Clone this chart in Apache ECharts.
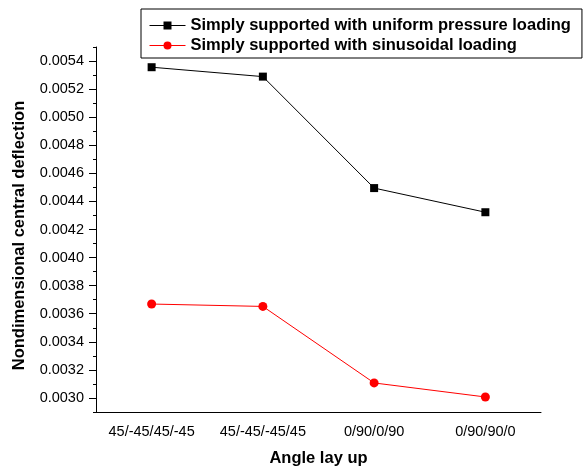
<!DOCTYPE html>
<html><head><meta charset="utf-8">
<script src="https://cdn.jsdelivr.net/npm/echarts@6/dist/echarts.min.js"></script>
<style>html,body{margin:0;padding:0;background:#fff}#c{width:587px;height:474px}</style>
</head><body><div id="c"></div>
<script>
const categories = ['45/-45/45/-45', '45/-45/-45/45', '0/90/0/90', '0/90/90/0'];
const uniformPressure = [0.005356, 0.005289, 0.004495, 0.004323];
const sinusoidal = [0.003669, 0.003652, 0.003107, 0.003007];
const yMajorTicks = [0.0030, 0.0032, 0.0034, 0.0036, 0.0038, 0.0040, 0.0042, 0.0044, 0.0046, 0.0048, 0.0050, 0.0052, 0.0054];
const seriesNames = ['Simply supported with uniform pressure loading', 'Simply supported with sinusoidal loading'];

const FONT = 'Liberation Sans, Arial, Helvetica, sans-serif';
const chart = echarts.init(document.getElementById('c'), null, {renderer: 'canvas'});
chart.setOption({
  animation: false,
  backgroundColor: '#fff',
  grid: {left: 96, right: 46, top: 47, bottom: 62, containLabel: false},
  legend: {
    orient: 'vertical',
    left: 141, top: 9,
    borderColor: '#000', borderWidth: 1,
    padding: [8, 11, 4, 8],
    itemWidth: 36, itemHeight: 10, itemGap: 3,
    lineStyle: {width: 1},
    textStyle: {color: '#000', fontWeight: 'bold', fontSize: 16.5, fontFamily: FONT},
    data: seriesNames
  },
  xAxis: [
    {
      type: 'category', data: categories, boundaryGap: true, position: 'bottom',
      axisLine: {lineStyle: {color: '#000', width: 1}},
      axisTick: {alignWithLabel: true, length: 5, lineStyle: {color: '#000'}},
      axisLabel: {interval: 0, color: '#000', fontSize: 14.5, fontFamily: FONT, margin: 12},
      name: 'Angle lay up', nameLocation: 'middle', nameGap: 38,
      nameTextStyle: {color: '#000', fontWeight: 'bold', fontSize: 16.5, fontFamily: FONT},
      splitLine: {show: false}
    },
    {
      type: 'category', data: categories, boundaryGap: true, position: 'bottom',
      axisLine: {show: false},
      axisTick: {alignWithLabel: false, interval: 0, length: 3, lineStyle: {color: '#000'}},
      axisLabel: {show: false},
      splitLine: {show: false}
    }
  ],
  yAxis: [
    {
      type: 'value', position: 'left', min: 0.0029, max: 0.0055, interval: 0.0001,
      axisLine: {show: true, lineStyle: {color: '#000', width: 1}},
      axisTick: {show: true, length: 3, lineStyle: {color: '#000'}},
      axisLabel: {customValues: yMajorTicks, color: '#000', fontSize: 14.5, fontFamily: FONT, margin: 12,
        formatter: v => v.toFixed(4)},
      splitLine: {show: false},
      name: 'Nondimensional central deflection', nameLocation: 'middle', nameGap: 68,
      nameTextStyle: {color: '#000', fontWeight: 'bold', fontSize: 16.5, fontFamily: FONT, padding: [0, 12, 0, 0]}
    },
    {
      type: 'value', position: 'left', min: 0.0029, max: 0.0055, interval: 0.0001,
      axisLine: {show: false},
      axisTick: {show: true, customValues: yMajorTicks, length: 7, lineStyle: {color: '#000'}},
      axisLabel: {show: false},
      splitLine: {show: false}
    }
  ],
  series: [
    {
      name: seriesNames[0], type: 'line', data: uniformPressure,
      xAxisIndex: 0, yAxisIndex: 0,
      symbol: 'rect', symbolSize: 8,
      lineStyle: {color: '#000', width: 1},
      itemStyle: {color: '#000'}
    },
    {
      name: seriesNames[1], type: 'line', data: sinusoidal,
      xAxisIndex: 0, yAxisIndex: 0,
      symbol: 'circle', symbolSize: 9,
      lineStyle: {color: '#ff0000', width: 1},
      itemStyle: {color: '#ff0000'}
    }
  ]
});
</script>
</body></html>
